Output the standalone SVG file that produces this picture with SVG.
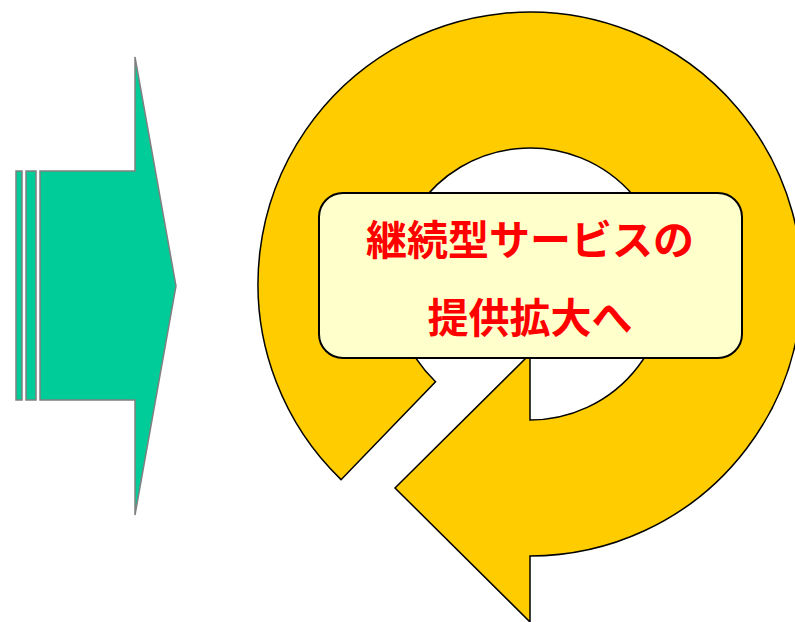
<svg xmlns="http://www.w3.org/2000/svg" width="795" height="622" viewBox="0 0 795 622">
  <style>
    .green { fill: #00CC99; stroke: #808080; stroke-width: 1.5; }
    .ring { fill: #FFCC00; stroke: #000000; stroke-width: 1.5; stroke-linejoin: miter; }
    .box { fill: #FFFFCC; stroke: #000000; stroke-width: 2; }
    .label { font-family: "Noto Sans CJK JP", "Noto Sans CJK SC", sans-serif; font-weight: bold; font-size: 41px; fill: #FF0000; text-anchor: middle; }
  </style>
  <rect x="0" y="0" width="795" height="622" fill="#FFFFFF"/>
  <g id="green-arrow">
    <rect class="green" x="16" y="171" width="6" height="229"/>
    <rect class="green" x="26" y="171" width="10" height="229"/>
    <path class="green" d="M40,171 L135,171 L135,57 L176,286 L135,515 L135,400 L40,400 Z"/>
  </g>
  <g id="cycle-arrow">
    <path class="ring" d="M341.05,479.66 A272,272 0 1 1 530,556 L530,622 L395,488 L530,354 L530,420 A136,136 0 1 0 435.53,381.83 Z"/>
  </g>
  <g id="label-box">
    <rect class="box" x="319" y="193" width="423" height="165" rx="24" ry="24"/>
    <text class="label" x="530" y="255">継続型サービスの</text>
    <text class="label" x="530" y="333">提供拡大へ</text>
  </g>
  <g id="connectors"/>
</svg>
